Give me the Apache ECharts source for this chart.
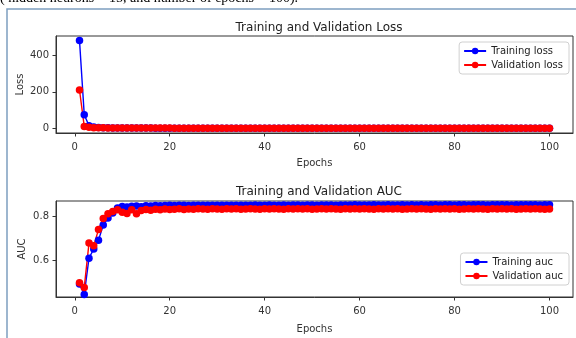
<!DOCTYPE html>
<html>
<head>
<meta charset="utf-8">
<script src="https://cdn.jsdelivr.net/npm/echarts@6/dist/echarts.min.js"></script>
<style>
  html, body { margin: 0; padding: 0; background: #fff; }
  #chart { width: 576px; height: 338px; }
</style>
</head>
<body>
<div id="chart"></div>
<script>
const epochs = Array.from({ length: 100 }, (_, i) => i + 1);

const trainLoss = [
  480, 75, 16, 8.2, 5.6, 4.6, 4.1, 3.7, 3.4, 3.2,
  3.0, 2.9, 2.8, 2.7, 2.7, 2.6, 2.5, 2.5, 2.4, 2.4,
  2.3, 2.3, 2.3, 2.2, 2.2, 2.2, 2.1, 2.1, 2.1, 2.0,
  2.0, 2.0, 2.0, 1.9, 1.9, 1.9, 1.9, 1.9, 1.8, 1.8,
  1.8, 1.8, 1.8, 1.8, 1.7, 1.7, 1.7, 1.7, 1.7, 1.7,
  1.7, 1.6, 1.6, 1.6, 1.6, 1.6, 1.6, 1.6, 1.6, 1.6,
  1.5, 1.5, 1.5, 1.5, 1.5, 1.5, 1.5, 1.5, 1.5, 1.5,
  1.5, 1.4, 1.4, 1.4, 1.4, 1.4, 1.4, 1.4, 1.4, 1.4,
  1.4, 1.4, 1.4, 1.4, 1.3, 1.3, 1.3, 1.3, 1.3, 1.3,
  1.3, 1.3, 1.3, 1.3, 1.3, 1.3, 1.3, 1.3, 1.3, 1.3
];
const valLoss = [
  210, 12, 6.8, 5.0, 4.3, 3.9, 3.6, 3.4, 3.2, 3.1,
  3.0, 2.9, 2.9, 2.8, 2.8, 2.7, 2.7, 2.6, 2.6, 2.6,
  2.5, 2.5, 2.5, 2.5, 2.4, 2.4, 2.4, 2.4, 2.4, 2.3,
  2.3, 2.3, 2.3, 2.3, 2.3, 2.2, 2.2, 2.2, 2.2, 2.2,
  2.2, 2.2, 2.2, 2.1, 2.1, 2.1, 2.1, 2.1, 2.1, 2.1,
  2.1, 2.1, 2.1, 2.1, 2.0, 2.0, 2.0, 2.0, 2.0, 2.0,
  2.0, 2.0, 2.0, 2.0, 2.0, 2.0, 2.0, 2.0, 2.0, 2.0,
  2.0, 2.0, 2.0, 2.0, 2.0, 2.0, 2.0, 2.0, 2.0, 2.0,
  2.0, 2.0, 2.0, 2.0, 2.0, 2.0, 2.0, 2.0, 2.0, 2.0,
  2.0, 2.0, 2.0, 2.0, 2.0, 2.0, 2.0, 2.0, 2.0, 2.0
];
const trainAuc = [
  0.490, 0.442, 0.608, 0.650, 0.690, 0.760, 0.792, 0.815, 0.838, 0.845,
  0.842, 0.846, 0.847, 0.844, 0.848, 0.847, 0.849, 0.848, 0.849, 0.850,
  0.849, 0.850, 0.850, 0.849, 0.850, 0.851, 0.850, 0.850, 0.851, 0.850,
  0.851, 0.850, 0.851, 0.851, 0.850, 0.851, 0.851, 0.852, 0.851, 0.851,
  0.852, 0.851, 0.851, 0.852, 0.851, 0.852, 0.852, 0.851, 0.852, 0.852,
  0.851, 0.852, 0.852, 0.852, 0.851, 0.852, 0.852, 0.852, 0.853, 0.852,
  0.852, 0.852, 0.853, 0.852, 0.852, 0.853, 0.852, 0.852, 0.853, 0.852,
  0.853, 0.852, 0.853, 0.852, 0.853, 0.853, 0.852, 0.853, 0.853, 0.852,
  0.853, 0.853, 0.852, 0.853, 0.853, 0.853, 0.852, 0.853, 0.853, 0.853,
  0.853, 0.852, 0.853, 0.853, 0.853, 0.853, 0.853, 0.852, 0.853, 0.853
];
const valAuc = [
  0.495, 0.474, 0.677, 0.665, 0.739, 0.790, 0.812, 0.822, 0.830, 0.818,
  0.813, 0.830, 0.812, 0.826, 0.831, 0.828, 0.832, 0.830, 0.833, 0.831,
  0.832, 0.834, 0.831, 0.833, 0.832, 0.834, 0.833, 0.832, 0.834, 0.833,
  0.832, 0.834, 0.833, 0.834, 0.832, 0.833, 0.834, 0.833, 0.832, 0.834,
  0.833, 0.834, 0.833, 0.832, 0.834, 0.833, 0.834, 0.833, 0.834, 0.832,
  0.833, 0.834, 0.833, 0.834, 0.833, 0.832, 0.834, 0.833, 0.834, 0.833,
  0.834, 0.833, 0.832, 0.834, 0.833, 0.834, 0.833, 0.834, 0.832, 0.833,
  0.834, 0.833, 0.834, 0.833, 0.832, 0.834, 0.833, 0.834, 0.833, 0.834,
  0.832, 0.833, 0.834, 0.833, 0.834, 0.833, 0.832, 0.834, 0.833, 0.834,
  0.833, 0.834, 0.832, 0.833, 0.834, 0.833, 0.834, 0.833, 0.832, 0.833
];

const xTicks = [0, 20, 40, 60, 80, 100];
const lossTicks = [0, 200, 400];
const aucTicks = [0.6, 0.8];

const font = 'DejaVu Sans';
const ink = '#333';

function xAxis(gridIndex, nameGap) {
  return {
    type: 'value', gridIndex, min: -3.95, max: 104.95,
    name: 'Epochs', nameLocation: 'middle', nameGap, nameMoveOverlap: false,
    nameTextStyle: { fontFamily: font, fontSize: 10, color: ink },
    splitLine: { show: false },
    axisLine: { show: true, onZero: false, lineStyle: { color: ink } },
    axisTick: { show: true, length: 3.5, lineStyle: { color: ink }, customValues: xTicks },
    axisLabel: { fontFamily: font, fontSize: 10, color: ink, margin: 9, customValues: xTicks }
  };
}

function yAxis(gridIndex, name, min, max, ticks, nameGap) {
  return {
    type: 'value', gridIndex, min, max,
    name, nameLocation: 'middle', nameGap, nameMoveOverlap: false,
    nameTextStyle: { fontFamily: font, fontSize: 10, color: ink },
    splitLine: { show: false },
    axisLine: { show: true, onZero: false, lineStyle: { color: ink } },
    axisTick: { show: true, length: 3.5, lineStyle: { color: ink }, customValues: ticks },
    axisLabel: { fontFamily: font, fontSize: 10, color: ink, margin: 7, customValues: ticks }
  };
}

function legend(top, names) {
  return {
    data: names, orient: 'vertical', right: 7, top,
    itemWidth: 22, itemHeight: 8, itemGap: 4,
    padding: [4, 6, 4, 4],
    borderColor: '#d0d0d0', borderWidth: 1, borderRadius: 3,
    backgroundColor: 'rgba(255,255,255,0.8)',
    textStyle: { fontFamily: font, fontSize: 10, color: '#222' }
  };
}

function line(name, x, y, data, color) {
  return {
    name, type: 'line', xAxisIndex: x, yAxisIndex: y,
    data: epochs.map((e, i) => [e, data[i]]),
    symbol: 'circle', symbolSize: 7.5, showAllSymbol: true,
    itemStyle: { color },
    lineStyle: { color, width: 1.4 }
  };
}

const chart = echarts.init(document.getElementById('chart'), null, { renderer: 'canvas' });
chart.setOption({
  animation: false,
  backgroundColor: '#fff',
  graphic: [
    {
      type: 'text', left: 0, top: -9,
      style: { text: '( hidden neurons = 15, and number of epochs = 100).', font: '14px "Liberation Serif"', fill: '#000' }
    },
    {
      type: 'rect', shape: { x: 7, y: 9, width: 580, height: 340 },
      style: { fill: 'none', stroke: '#7d9fc0', lineWidth: 1.5 }
    }
  ],
  title: [
    { text: 'Training and Validation Loss', left: 314, top: 17, textAlign: 'center',
      textStyle: { fontFamily: font, fontSize: 12, fontWeight: 'normal', color: '#222' } },
    { text: 'Training and Validation AUC', left: 314, top: 181, textAlign: 'center',
      textStyle: { fontFamily: font, fontSize: 12, fontWeight: 'normal', color: '#222' } }
  ],
  grid: [
    { left: 56, right: 3, top: 36, height: 97, show: true, borderColor: ink, borderWidth: 1, backgroundColor: 'transparent' },
    { left: 56, right: 3, top: 201, height: 96, show: true, borderColor: ink, borderWidth: 1, backgroundColor: 'transparent' }
  ],
  xAxis: [xAxis(0, 25), xAxis(1, 27)],
  yAxis: [
    yAxis(0, 'Loss', -24, 504, lossTicks, 31),
    yAxis(1, 'AUC', 0.43, 0.87, aucTicks, 29)
  ],
  legend: [
    legend(42, ['Training loss', 'Validation loss']),
    legend(253, ['Training auc', 'Validation auc'])
  ],
  series: [
    line('Training loss', 0, 0, trainLoss, '#0000ff'),
    line('Validation loss', 0, 0, valLoss, '#ff0000'),
    line('Training auc', 1, 1, trainAuc, '#0000ff'),
    line('Validation auc', 1, 1, valAuc, '#ff0000')
  ]
});
</script>
</body>
</html>
